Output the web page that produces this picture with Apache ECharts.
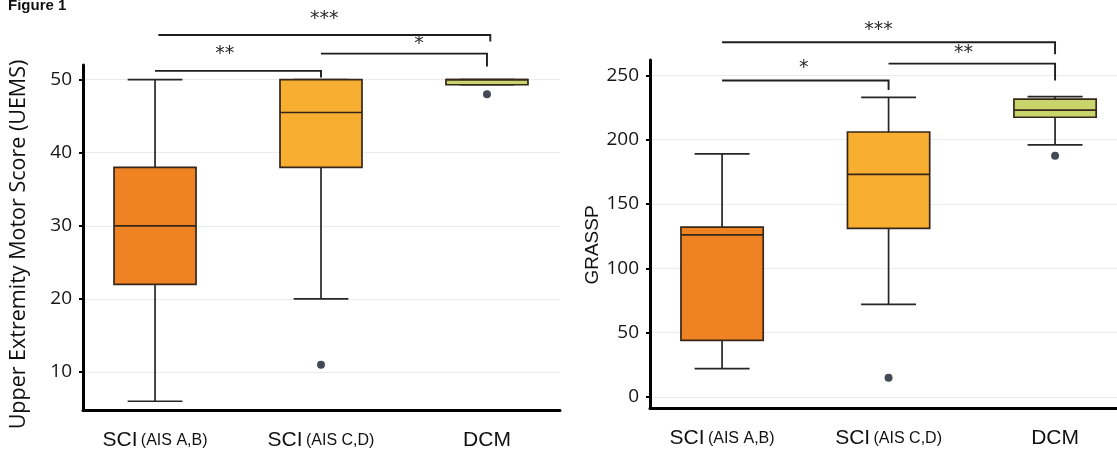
<!DOCTYPE html>
<html>
<head>
<meta charset="utf-8">
<script src="https://cdn.jsdelivr.net/npm/echarts@6/dist/echarts.min.js"></script>
<style>
  html, body { margin: 0; padding: 0; background: #fff; }
  #chart { width: 1117px; height: 456px; }
</style>
</head>
<body>
<div id="chart"></div>
<script>
// ---------- data ----------
const groupMain = ['SCI', 'SCI', 'DCM'];
const groupSub = ['(AIS A,B)', '(AIS C,D)', ''];
const groupPos = [1, 2, 3];

// [min, Q1, median, Q3, max]
const uemsBoxes = [
  [6, 22, 30, 38, 50],
  [20, 38, 45.5, 50, 50],
  [49.3, 49.3, 50, 50, 50]
];
const uemsOutliers = [[2, 11], [3, 48]];
const uemsTicks = [10, 20, 30, 40, 50];

const grasspBoxes = [
  [22, 44, 126, 132, 189],
  [72, 131, 173, 206, 233],
  [196, 217.5, 223, 231.5, 233.5]
];
const grasspOutliers = [[2, 15], [3, 187.5]];
const grasspTicks = [0, 50, 100, 150, 200, 250];

// significance brackets: [x1, x2, yLine, yDropEnd, labelX, labelY]
const uemsBrackets = [
  [1.02, 3.02, 56.1, 55.2, 2.02, 58.3],
  [1.0, 2.0, 51.2, 50.3, 1.42, 53.5],
  [2.0, 3.0, 53.55, 51.8, 2.59, 54.9]
];
const uemsStars = ['***', '**', '*'];
const grasspBrackets = [
  [1.0, 3.0, 275.8, 266.4, 1.94, 285.5],
  [2.0, 3.0, 259.2, 246.1, 2.45, 267.5],
  [1.0, 2.0, 246.1, 238.6, 1.49, 255.7]
];
const grasspStars = ['***', '**', '*'];

const boxColors = ['#EF8324', '#F8AE31', '#C9D56B'];

// ---------- helpers ----------
const BOX_W = 0.494, CAP_W = 0.33;
function boxRows(boxes) {
  return boxes.map((b, i) => [groupPos[i]].concat(b));
}
function renderBox(params, api) {
  const x = api.value(0);
  const pMin = api.coord([x, api.value(1)]);
  const pQ1 = api.coord([x, api.value(2)]);
  const pMed = api.coord([x, api.value(3)]);
  const pQ3 = api.coord([x, api.value(4)]);
  const pMax = api.coord([x, api.value(5)]);
  const bw = api.size([BOX_W, 0])[0];
  const cw = api.size([CAP_W, 0])[0];
  const cx = pMed[0];
  const lineStyle = { stroke: '#262626', lineWidth: 1.7, fill: null };
  const children = [
    { type: 'line', shape: { x1: cx, y1: pQ1[1], x2: cx, y2: pMin[1] }, style: lineStyle },
    { type: 'line', shape: { x1: cx, y1: pQ3[1], x2: cx, y2: pMax[1] }, style: lineStyle },
    { type: 'line', shape: { x1: cx - cw / 2, y1: pMin[1], x2: cx + cw / 2, y2: pMin[1] }, style: lineStyle },
    { type: 'line', shape: { x1: cx - cw / 2, y1: pMax[1], x2: cx + cw / 2, y2: pMax[1] }, style: lineStyle },
    { type: 'rect', shape: { x: cx - bw / 2, y: pQ3[1], width: bw, height: Math.max(pQ1[1] - pQ3[1], 1) },
      style: { fill: boxColors[params.dataIndex], stroke: '#35271a', lineWidth: 1.7 } },
    { type: 'line', shape: { x1: cx - bw / 2, y1: pMed[1], x2: cx + bw / 2, y2: pMed[1] },
      style: { stroke: '#35271a', lineWidth: 1.7 } }
  ];
  return { type: 'group', children };
}
function makeBracketRenderer(stars) {
  return function (params, api) {
    const a = api.coord([api.value(0), api.value(2)]);
    const b = api.coord([api.value(1), api.value(2)]);
    const d = api.coord([api.value(1), api.value(3)]);
    const t = api.coord([api.value(4), api.value(5)]);
    const ls = { stroke: '#1e1e1e', lineWidth: 1.9, fill: null };
    return {
      type: 'group',
      children: [
        { type: 'polyline', shape: { points: [a, b, d] }, style: ls },
        { type: 'text', x: t[0], y: t[1],
          style: { text: stars[params.dataIndex], fill: '#2a2a2a', font: '19px "DejaVu Sans"',
                   textAlign: 'center', textVerticalAlign: 'middle' } }
      ]
    };
  };
}
function xLabel(v) {
  const i = groupPos.indexOf(Math.round(v));
  if (i < 0) return '';
  return groupSub[i] ? '{a|' + groupMain[i] + '} {b|' + groupSub[i] + '}' : '{a|' + groupMain[i] + '}';
}
function makeXAxis(gridIndex, min, max) {
  return {
    type: 'value', gridIndex, min, max,
    axisLine: { show: true, onZero: false, lineStyle: { color: '#000', width: 3 } },
    axisTick: { show: false },
    splitLine: { show: false },
    axisLabel: {
      customValues: groupPos, formatter: xLabel, margin: 20,
      rich: {
        a: { fontFamily: 'Liberation Sans', fontSize: 21, color: '#111' },
        b: { fontFamily: 'Liberation Sans', fontSize: 16, color: '#111' }
      }
    }
  };
}
function makeYAxis(gridIndex, min, max, ticks, name, nameGap, nameFont, nameSize, namePad) {
  return {
    type: 'value', gridIndex, min, max,
    name, nameLocation: 'middle', nameGap,
    nameTextStyle: { fontFamily: nameFont, fontSize: nameSize, color: '#111', padding: namePad },
    axisLine: { show: true, onZero: false, lineStyle: { color: '#000', width: 3 } },
    axisTick: { show: true, customValues: ticks, length: 4, lineStyle: { color: '#000', width: 2 } },
    axisLabel: { customValues: ticks, margin: 11, fontFamily: 'Open Sans', fontSize: 19, color: '#151515' },
    splitLine: { show: true, lineStyle: { color: '#ebebeb', width: 1 } }
  };
}

const chart = echarts.init(document.getElementById('chart'), null, { renderer: 'canvas' });
chart.setOption({
  backgroundColor: '#fff',
  animation: false,
  title: {
    text: 'Figure 1', left: 3, top: -7,
    textStyle: { fontFamily: 'Liberation Sans', fontSize: 15, fontWeight: 'bold', color: '#111' }
  },
  grid: [
    { left: 83, top: 65, width: 477, height: 345 },
    { left: 650, top: 60, width: 467, height: 348 }
  ],
  xAxis: [makeXAxis(0, 0.566, 3.44), makeXAxis(1, 0.567, 3.372)],
  yAxis: [
    makeYAxis(0, 4.8, 52, uemsTicks, 'Upper Extremity Motor Score (UEMS)', 53, 'Open Sans', 21.5, [0, 14, 0, 0]),
    makeYAxis(1, -8.6, 262, grasspTicks, 'GRASSP', 46, 'Liberation Sans', 19, [0, 22, 0, 0])
  ],
  series: [
    { type: 'custom', xAxisIndex: 0, yAxisIndex: 0, renderItem: renderBox,
      encode: { x: 0, y: [1, 2, 3, 4, 5] }, data: boxRows(uemsBoxes), z: 2 },
    { type: 'scatter', xAxisIndex: 0, yAxisIndex: 0, data: uemsOutliers, symbolSize: 8,
      itemStyle: { color: '#141b2a' }, z: 3 },
    { type: 'custom', xAxisIndex: 0, yAxisIndex: 0, renderItem: makeBracketRenderer(uemsStars),
      clip: false, encode: { x: [0, 1, 4], y: [2, 3, 5] }, data: uemsBrackets, z: 4 },
    { type: 'custom', xAxisIndex: 1, yAxisIndex: 1, renderItem: renderBox,
      encode: { x: 0, y: [1, 2, 3, 4, 5] }, data: boxRows(grasspBoxes), z: 2 },
    { type: 'scatter', xAxisIndex: 1, yAxisIndex: 1, data: grasspOutliers, symbolSize: 8,
      itemStyle: { color: '#141b2a' }, z: 3 },
    { type: 'custom', xAxisIndex: 1, yAxisIndex: 1, renderItem: makeBracketRenderer(grasspStars),
      clip: false, encode: { x: [0, 1, 4], y: [2, 3, 5] }, data: grasspBrackets, z: 4 }
  ]
});
</script>
</body>
</html>
